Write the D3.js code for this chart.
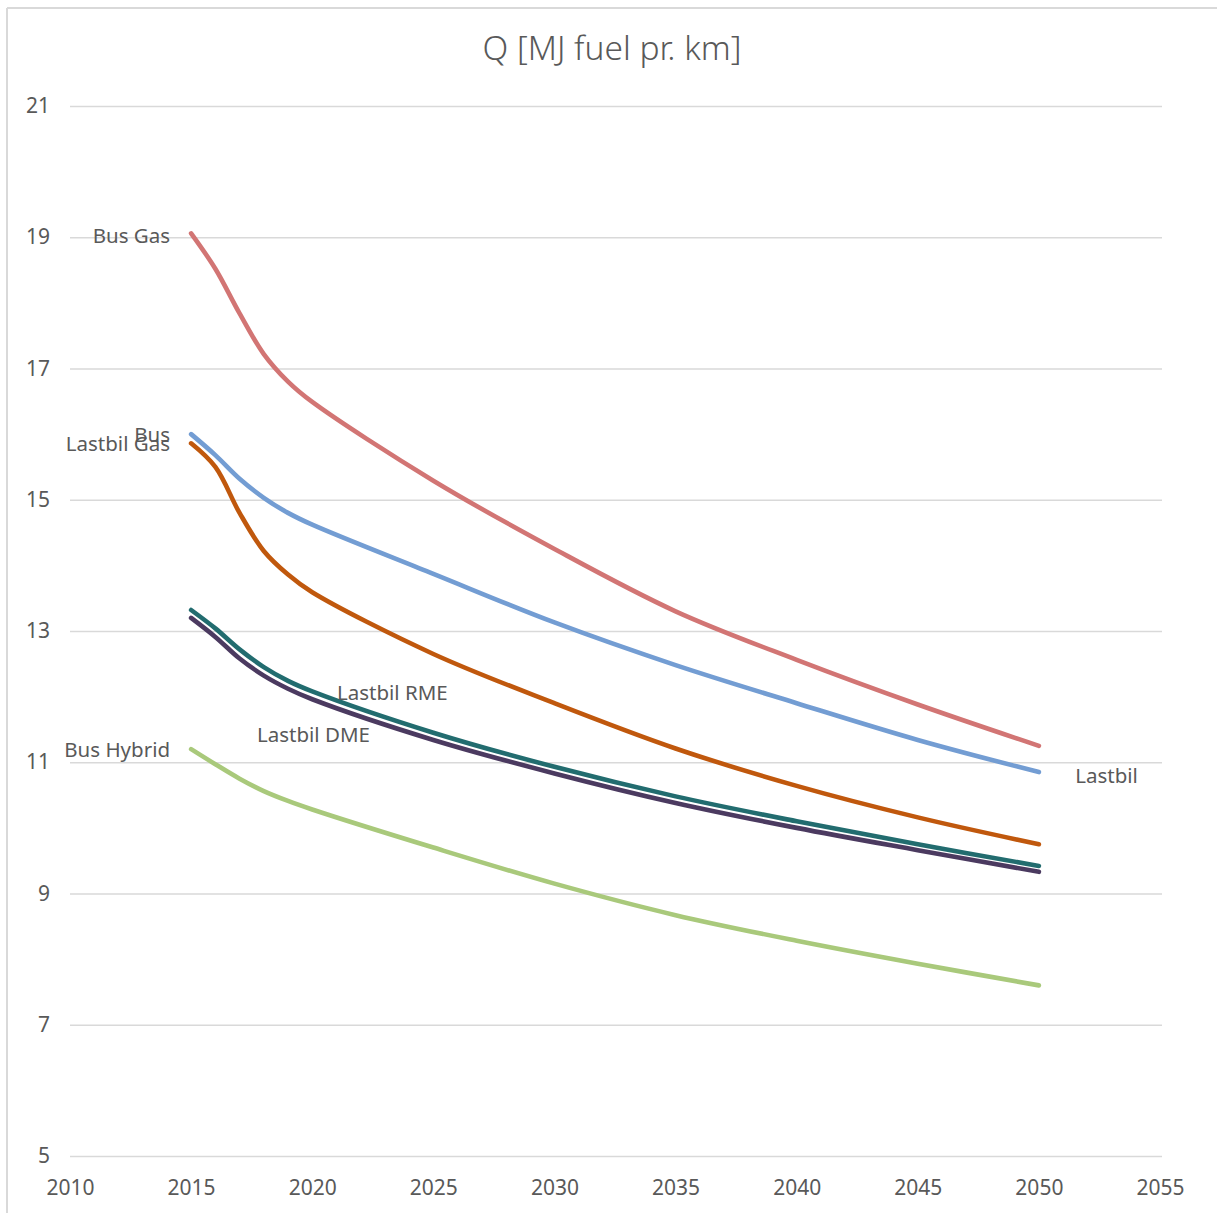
<!DOCTYPE html>
<html>
<head>
<meta charset="utf-8">
<script src="https://cdn.jsdelivr.net/npm/d3@7"></script>
<style>
  html, body { margin: 0; padding: 0; background: #fff; }
  svg { display: block; }
</style>
</head>
<body>
<svg id="chart" width="1217" height="1213"></svg>
<script>
// Fuel use per km, 2015–2050
const years = [2015, 2016, 2017, 2018, 2019, 2020, 2025, 2030, 2035, 2040, 2045, 2050];

const busGas      = [19.06, 18.52, 17.84, 17.22, 16.80, 16.49, 15.29, 14.25, 13.30, 12.56, 11.88, 11.25];
const bus         = [16.00, 15.68, 15.32, 15.03, 14.80, 14.62, 13.87, 13.13, 12.48, 11.90, 11.34, 10.85];
const lastbilGas  = [15.86, 15.50, 14.80, 14.22, 13.86, 13.59, 12.65, 11.90, 11.21, 10.64, 10.16,  9.75];
const lastbilRME  = [13.32, 13.04, 12.72, 12.45, 12.24, 12.08, 11.45, 10.93, 10.48, 10.10,  9.75,  9.42];
const lastbilDME  = [13.20, 12.91, 12.58, 12.32, 12.12, 11.96, 11.34, 10.83, 10.38, 10.00,  9.66,  9.33];
const busHybrid   = [11.20, 10.97, 10.75, 10.56, 10.41, 10.28,  9.70,  9.15,  8.67,  8.28,  7.93,  7.60];

const seriesNames  = ["Bus Gas", "Bus", "Lastbil Gas", "Lastbil RME", "Lastbil DME", "Bus Hybrid"];
const seriesValues = [busGas, bus, lastbilGas, lastbilRME, lastbilDME, busHybrid];
const seriesColors = ["#D27574", "#739DD3", "#C0580D", "#226C6F", "#4B3A60", "#A9C97B"];

const xTicks = [2010, 2015, 2020, 2025, 2030, 2035, 2040, 2045, 2050, 2055];
const yTicks = [5, 7, 9, 11, 13, 15, 17, 19, 21];

// Series labels placed in data space
const labelText   = ["Bus Gas", "Bus", "Lastbil Gas", "Lastbil RME", "Lastbil DME", "Bus Hybrid", "Lastbil"];
const labelYear   = [2014.13, 2014.13, 2014.13, 2021.02, 2017.72, 2014.13, 2051.5];
const labelValue  = [19.02, 15.99, 15.85, 12.06, 11.42, 11.19, 10.79];
const labelAnchor = ["end", "end", "end", "start", "start", "end", "start"];

const font = "'Noto Sans', 'Open Sans', sans-serif";
const svg = d3.select("#chart");

// outer frame (top and left edges)
svg.append("line").attr("x1", 7).attr("x2", 1217).attr("y1", 8).attr("y2", 8)
  .attr("stroke", "#d9d9d9").attr("stroke-width", 2);
svg.append("line").attr("x1", 7).attr("x2", 7).attr("y1", 8).attr("y2", 1213)
  .attr("stroke", "#d9d9d9").attr("stroke-width", 2);

const x = d3.scaleLinear().domain([2010, 2055]).range([70, 1160]);
const y = d3.scaleLinear().domain([5, 21]).range([1156, 106]);

// title
svg.append("text")
  .attr("x", 612).attr("y", 51)
  .attr("text-anchor", "middle").attr("dominant-baseline", "middle")
  .attr("font-family", font).attr("font-size", 33.5).attr("font-weight", 300).attr("fill", "#595959")
  .text("Q [MJ fuel pr. km]");

// horizontal gridlines + y labels
const yAxis = d3.axisLeft(y).tickValues(yTicks).tickSize(-(1162 - 70)).tickPadding(20).tickFormat(d3.format("d"));
const gy = svg.append("g").attr("transform", "translate(70,0)").call(yAxis);
gy.select(".domain").remove();
gy.selectAll(".tick line").attr("stroke", "#d9d9d9").attr("stroke-width", 1.3);
gy.selectAll(".tick text").attr("font-family", font).attr("font-size", 21).attr("fill", "#595959");

// x labels
const xAxis = d3.axisBottom(x).tickValues(xTicks).tickSize(0).tickPadding(14).tickFormat(d3.format("d"));
const gx = svg.append("g").attr("transform", "translate(0,1166)").call(xAxis);
gx.select(".domain").remove();
gx.selectAll(".tick text").attr("font-family", font).attr("font-size", 21).attr("fill", "#595959");

// series lines (smoothed)
const line = d3.line()
  .x(d => x(d[0]))
  .y(d => y(d[1]))
  .curve(d3.curveCatmullRom.alpha(0.5));

seriesValues.forEach((vals, i) => {
  svg.append("path")
    .datum(years.map((yr, j) => [yr, vals[j]]))
    .attr("d", line)
    .attr("fill", "none")
    .attr("stroke", seriesColors[i])
    .attr("stroke-width", 4.6)
    .attr("stroke-linecap", "round")
    .attr("stroke-linejoin", "round");
});

// series labels
labelText.forEach((t, i) => {
  svg.append("text")
    .attr("x", x(labelYear[i]))
    .attr("y", y(labelValue[i]))
    .attr("dy", "0.35em")
    .attr("text-anchor", labelAnchor[i])
    .attr("font-family", font).attr("font-size", 20.5).attr("fill", "#595959")
    .text(t);
});
</script>
</body>
</html>
